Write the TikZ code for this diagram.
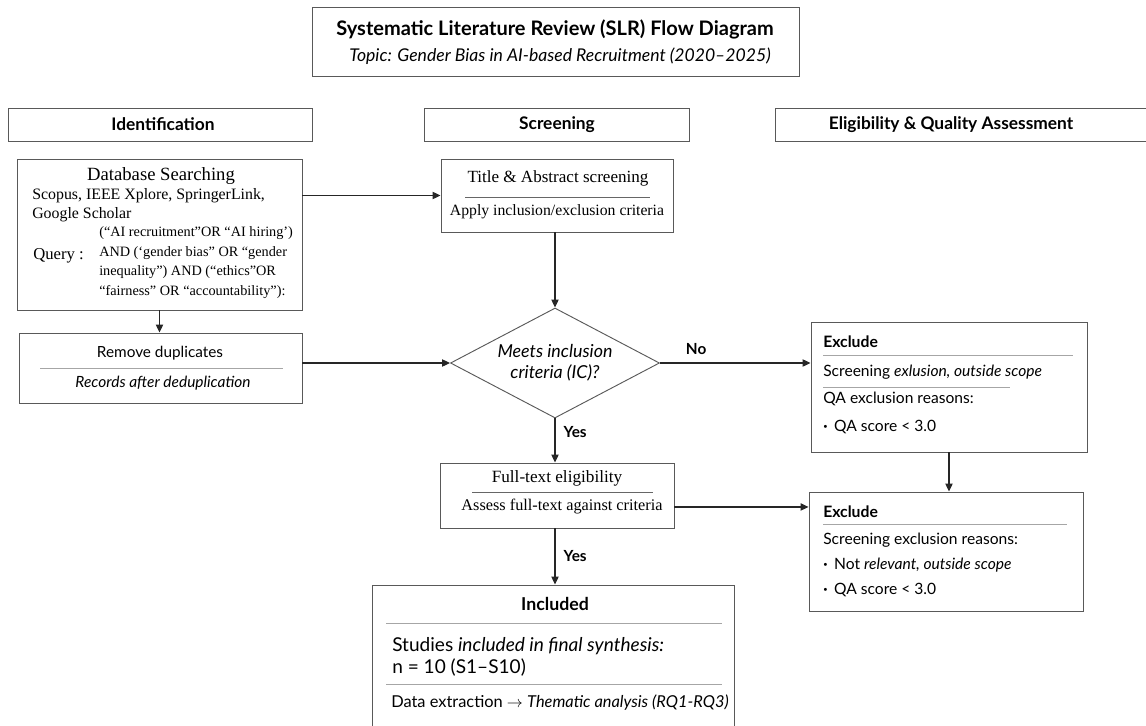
\documentclass[tikz,border=0pt]{standalone}
\usepackage{fontspec}
\setmainfont{Liberation Serif}
\setsansfont{Lato}
\usetikzlibrary{arrows.meta,shapes.geometric,fit,positioning}

\tikzset{
  box/.style={draw=black!65, line width=0.7pt, inner sep=0pt},
  hdr/.style={inner sep=0pt, font=\sffamily\bfseries\fontsize{13}{15}\selectfont},
  sans/.style={inner sep=0pt, font=\sffamily\fontsize{11.7}{14}\selectfont},
  serif/.style={inner sep=0pt, font=\fontsize{12}{14}\selectfont},
  rule/.style={draw=black!35, line width=0.5pt},
  arr/.style={draw=black!85, line width=0.8pt, -{Triangle[length=6pt,width=5.5pt]}},
  lbl/.style={font=\sffamily\bfseries\fontsize{11.5}{13}\selectfont, inner sep=0pt}
}

\begin{document}
\begin{tikzpicture}[x=0.75pt,y=-0.75pt]
\path[use as bounding box] (0,0) rectangle (1146,725);
\clip (0,0) rectangle (1146,725);

\node[box, fit={(312,7) (799,76)}] (TT) {};
\node[sans, font=\sffamily\bfseries\fontsize{15}{17}\selectfont] (TT1) at (555,29) {Systematic Literature Review (SLR) Flow Diagram};
\node[sans, font=\sffamily\itshape\fontsize{13.2}{15}\selectfont] (TT2) at (560,56) {Topic: Gender Bias in AI-based Recruitment (2020--2025)};

\node[box, fit={(8,108) (312,141)}] (ID) {};
\node[hdr] (IDt) at (163,124.5) {Identification};
\node[box, fit={(424,108) (689,141)}] (SC) {};
\node[hdr] (SCt) at (557,124.5) {Screening};
\node[box, fit={(775,108) (1150,141)}] (EQ) {};
\node[hdr] (EQt) at (951,124.5) {Eligibility \& Quality Assessment};

\node[box, fit={(17,159) (302,310)}] (DB) {};
\node[serif, font=\fontsize{14}{16}\selectfont] (DB1) at (161,176) {Database Searching};
\node[serif, anchor=west, align=left, font=\fontsize{11.9}{14.2}\selectfont] (DB2) at (32,205.5) {Scopus, IEEE Xplore, SpringerLink,\\Google Scholar};
\node[serif, font=\fontsize{12.5}{14}\selectfont, anchor=west] (DB3) at (33,256) {Query :};
\node[serif, anchor=west, align=left, font=\fontsize{10.7}{14.6}\selectfont] (DB4) at (99,262.5) {(“AI recruitment”OR “AI hiring’)\\AND (‘gender bias” OR “gender\\inequality”) AND (“ethics”OR\\“fairness” OR “accountability”):};

\node[box, fit={(19,333) (302,403)}] (RD) {};
\node[sans, font=\sffamily\fontsize{11.5}{14}\selectfont] (RD1) at (160,353) {Remove duplicates};
\draw[rule] (40,368) -- (283,368);
\node[sans, font=\sffamily\itshape\fontsize{11.6}{14}\selectfont] (RD2) at (163,383) {Records after deduplication};

\node[box, fit={(441,159) (673,232)}] (TA) {};
\node[serif, font=\fontsize{12.8}{14}\selectfont] (TA1) at (558,178) {Title \& Abstract screening};
\draw[rule, draw=black!60] (465,197) -- (650,197);
\node[serif, font=\fontsize{11.8}{14}\selectfont] (TA2) at (557,212) {Apply inclusion/exclusion criteria};

\node[box, diamond, minimum width=156.75pt, minimum height=82.5pt, aspect=1.9, align=center,
      font=\sffamily\itshape\fontsize{13.4}{16}\selectfont] (IC) at (555,363) {Meets inclusion\\criteria (IC)?};

\node[box, fit={(440,463) (674,528)}] (FT) {};
\node[serif, font=\fontsize{12.9}{14}\selectfont] (FT1) at (557,478) {Full-text eligibility};
\draw[rule, draw=black!60] (472,492) -- (653,492);
\node[serif, font=\fontsize{12.2}{14}\selectfont] (FT2) at (562,507) {Assess full-text against criteria};

\node[box, fit={(372,585) (734,760)}] (IN) {};
\node[sans, font=\sffamily\bfseries\fontsize{13.3}{15}\selectfont] (IN1) at (555,604) {Included};
\draw[rule] (386,623) -- (722,623);
\node[sans, font=\sffamily\fontsize{14.3}{16.5}\selectfont, anchor=west, align=left] (IN2) at (392,657) {Studies \textit{included in final synthesis:}\\n = 10 (S1--S10)};
\draw[rule] (386,684) -- (722,684);
\node[sans, font=\sffamily\fontsize{12.3}{14}\selectfont] (IN3) at (560,703) {Data extraction $\rightarrow$ \textit{Thematic analysis (RQ1-RQ3)}};

\node[box, fit={(811,322) (1087,452)}] (EX1) {};
\node[sans, font=\sffamily\bfseries\fontsize{11.8}{14}\selectfont, anchor=west] (EX1a) at (823,342) {Exclude};
\draw[rule] (823,355) -- (1073,355);
\node[sans, anchor=west] (EX1b) at (823,372) {Screening \textit{exlusion, outside scope}};
\draw[rule] (823,387) -- (1010,387);
\node[sans, anchor=west] (EX1c) at (823,399) {QA exclusion reasons:};
\node[sans, anchor=west] (EX1d) at (823,427) {\textbf{·}\, QA score < 3.0};

\node[box, fit={(809,492) (1083,611)}] (EX2) {};
\node[sans, font=\sffamily\bfseries\fontsize{11.8}{14}\selectfont, anchor=west] (EX2a) at (823,512) {Exclude};
\draw[rule] (823,524) -- (1067,524);
\node[sans, anchor=west] (EX2b) at (823,540) {Screening exclusion reasons:};
\node[sans, anchor=west] (EX2c) at (823,565) {\textbf{·}\, Not \textit{relevant, outside scope}};
\node[sans, anchor=west] (EX2d) at (823,590) {\textbf{·}\, QA score < 3.0};

\draw[arr] (DB.east |- TA.west) -- (TA.west);
\draw[arr] (DB.south) -- (DB.south |- RD.north);
\draw[arr] (RD.east |- IC.west) -- (IC.west);
\draw[arr] (TA.south -| IC.north) -- (IC.north);
\draw[arr] (IC.east) -- (IC.east -| EX1.west) node[lbl, pos=0.24, above=6pt] (NO) {No};
\draw[arr] (IC.south) -- (IC.south |- FT.north) node[lbl, pos=0.3, right=6pt] (Y1) {Yes};
\draw[arr] ([yshift=-8.6pt]FT.east) -- ([yshift=-8.6pt]FT.east -| EX2.west);
\draw[arr] (FT.south -| IC.south) -- (IC.south |- IN.north) node[lbl, midway, right=6pt] (Y2) {Yes};
\draw[arr] (EX1.south) -- (EX1.south |- EX2.north);

\end{tikzpicture}
\end{document}
